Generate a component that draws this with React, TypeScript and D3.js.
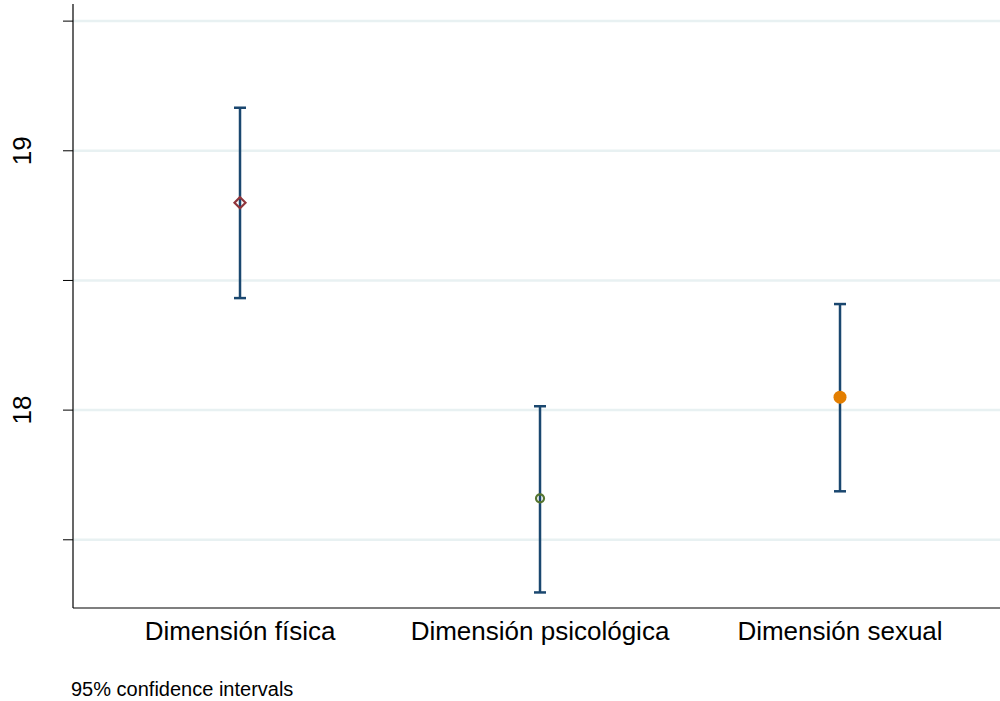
import React from "react";
import * as d3 from "d3";

const categories = ["Dimensión física", "Dimensión psicológica", "Dimensión sexual"];
const means = [18.8, 17.66, 18.05];
const lowers = [18.432, 17.297, 17.687];
const uppers = [19.166, 18.015, 18.409];
const markers = ["diamond", "hollowCircle", "filledCircle"];
const markerColors = ["#90353b", "#55752f", "#e37e00"];
const majorTicks = [18, 19];
const allTicks = [17.5, 18, 18.5, 19, 19.5];
const note = "95% confidence intervals";

export default function App() {
  const W = 1000, H = 701;
  const left = 73, right = 1000, top = 4, bottom = 608;
  const y = d3.scaleLinear().domain([17.237, 19.566]).range([bottom, top]);
  const x = d3.scaleLinear().domain([0.4433, 3.5333]).range([left, right]);
  const barColor = "#1a476f";
  const font = "'Liberation Sans', Arial, sans-serif";
  return (
    <svg width={W} height={H} style={{ position: "absolute", left: 0, top: 0, background: "#fff" }}>
      {allTicks.map((t) => (
        <line key={"g" + t} x1={left} x2={right} y1={y(t)} y2={y(t)} stroke="#e8f1f2" strokeWidth={2.5} />
      ))}
      <line x1={left} x2={left} y1={top} y2={bottom} stroke="#000" strokeWidth={1.2} />
      <line x1={left} x2={right} y1={bottom} y2={bottom} stroke="#000" strokeWidth={1.2} />
      {allTicks.map((t) => (
        <line key={"t" + t} x1={left - 10} x2={left} y1={y(t)} y2={y(t)} stroke="#000" strokeWidth={1} />
      ))}
      {majorTicks.map((t) => (
        <text key={"l" + t} transform={`translate(${31},${y(t)}) rotate(-90)`} textAnchor="middle"
          fontFamily={font} fontSize={26} fill="#000">{t}</text>
      ))}
      {categories.map((c, i) => {
        const cx = x(i + 1);
        return (
          <g key={c}>
            <text x={cx} y={640} textAnchor="middle" fontFamily={font} fontSize={26} fill="#000">{c}</text>
            <line x1={cx} x2={cx} y1={y(uppers[i])} y2={y(lowers[i])} stroke={barColor} strokeWidth={2.5} />
            <line x1={cx - 6} x2={cx + 6} y1={y(uppers[i])} y2={y(uppers[i])} stroke={barColor} strokeWidth={2.5} />
            <line x1={cx - 6} x2={cx + 6} y1={y(lowers[i])} y2={y(lowers[i])} stroke={barColor} strokeWidth={2.5} />
            {markers[i] === "diamond" && (
              <path d={`M${cx},${y(means[i]) - 5.5} L${cx + 5.5},${y(means[i])} L${cx},${y(means[i]) + 5.5} L${cx - 5.5},${y(means[i])} Z`}
                fill="none" stroke={markerColors[i]} strokeWidth={2.2} />
            )}
            {markers[i] === "hollowCircle" && (
              <circle cx={cx} cy={y(means[i])} r={4} fill="none" stroke={markerColors[i]} strokeWidth={2.2} />
            )}
            {markers[i] === "filledCircle" && (
              <circle cx={cx} cy={y(means[i])} r={6.5} fill={markerColors[i]} />
            )}
          </g>
        );
      })}
      <text x={71} y={696} fontFamily={font} fontSize={20} fill="#000">{note}</text>
    </svg>
  );
}
